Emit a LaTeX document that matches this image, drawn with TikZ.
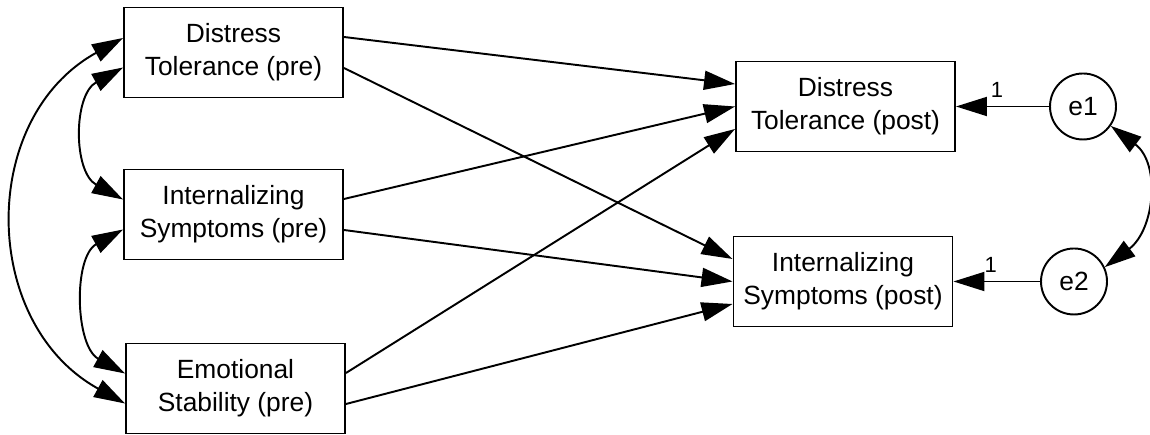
\documentclass[tikz,border=0pt]{standalone}
\usepackage{fontspec}
\setmainfont{Liberation Sans}
\usetikzlibrary{arrows.meta}

\begin{document}
\begin{tikzpicture}[>={Triangle[length=0.62cm,width=0.38cm]},line width=1.1pt,
  box/.style={draw,minimum width=4.38cm,minimum height=1.8cm,align=center,
    font=\fontsize{15}{18.7}\selectfont},
  err/.style={draw,circle,minimum size=1.32cm,inner sep=0pt,
    font=\fontsize{15}{18.7}\selectfont},
  wt/.style={font=\fontsize{12.5}{14}\selectfont}]
  \useasboundingbox (0,0) rectangle (23,8.7);
  % observed variables
  \node[box] (dtpre) at (4.67,7.65) {Distress\\Tolerance (pre)};
  \node[box] (ispre) at (4.67,4.41) {Internalizing\\Symptoms (pre)};
  \node[box] (espre) at (4.71,0.93) {Emotional\\Stability (pre)};
  \node[box] (dtpost) at (16.91,6.57) {Distress\\Tolerance (post)};
  \node[box] (ispost) at (16.86,3.07) {Internalizing\\Symptoms (post)};
  % residuals
  \node[err] (e1) at (21.66,6.57) {e1};
  \node[err] (e2) at (21.48,3.07) {e2};
  % paths
  \draw[->] ([yshift=0.31cm]dtpre.east) -- ([yshift=0.45cm]dtpost.west);
  \draw[->] ([yshift=-0.31cm]dtpre.east) -- ([yshift=0.45cm]ispost.west);
  \draw[->] ([yshift=0.31cm]ispre.east) -- (dtpost.west);
  \draw[->] ([yshift=-0.31cm]ispre.east) -- (ispost.west);
  \draw[->] ([yshift=0.31cm]espre.east) -- ([yshift=-0.45cm]dtpost.west);
  \draw[->] ([yshift=-0.31cm]espre.east) -- ([yshift=-0.45cm]ispost.west);
  \draw[->] (e1) -- (dtpost) node[wt,pos=0.56,above=1pt]{1};
  \draw[->] (e2) -- (ispost) node[wt,pos=0.57,above=1pt]{1};
  % covariances
  \draw[<->] ([yshift=0.29cm]dtpre.west) .. controls +(-2.9,-1.6) and +(-2.9,1.6) .. ([yshift=-0.3cm]espre.west);
  \draw[<->] ([yshift=-0.3cm]dtpre.west) .. controls +(-1.0,-0.55) and +(-1.0,0.55) .. ([yshift=0.3cm]ispre.west);
  \draw[<->] ([yshift=-0.3cm]ispre.west) .. controls +(-1.0,-0.55) and +(-1.0,0.55) .. ([yshift=0.3cm]espre.west);
  \draw[<->] (e1.-35) .. controls +(1.0,-0.75) and +(1.0,0.75) .. (e2.25);
\end{tikzpicture}
\end{document}
